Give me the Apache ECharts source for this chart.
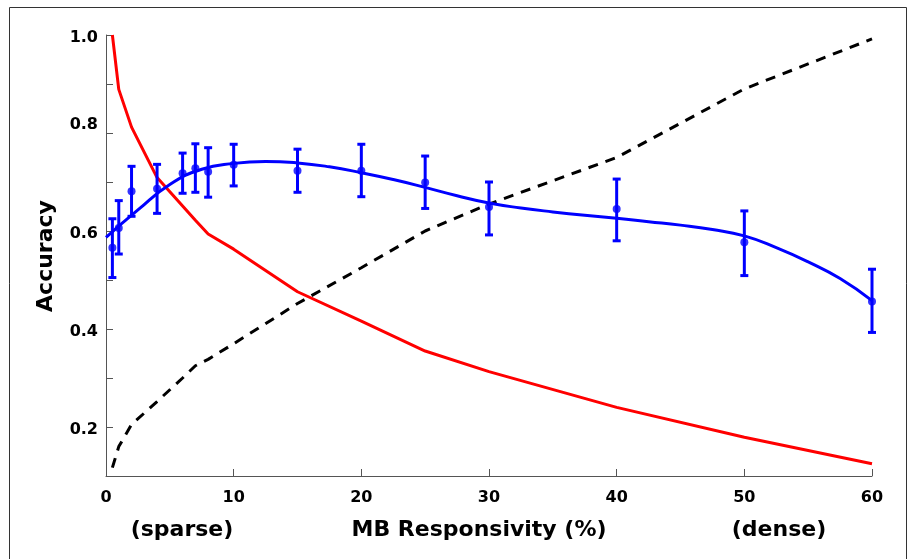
<!DOCTYPE html>
<html>
<head>
<meta charset="utf-8">
<script src="https://cdn.jsdelivr.net/npm/echarts@6/dist/echarts.min.js"></script>
<style>
  html, body { margin: 0; padding: 0; background: #fff; }
  #chart { width: 909px; height: 559px; }
</style>
</head>
<body>
<div id="chart"></div>
<script>
// Sample positions (MB responsivity, %)
const responsivity = [0.5, 1, 2, 4, 6, 7, 8, 10, 15, 20, 25, 30, 40, 50, 60];

// Measured accuracy with error bar bounds
const accuracyMean = [0.566, 0.606, 0.681, 0.686, 0.718, 0.728, 0.721, 0.735, 0.723, 0.723, 0.699, 0.649, 0.645, 0.577, 0.456];
const accuracyHigh = [0.625, 0.662, 0.732, 0.736, 0.759, 0.778, 0.770, 0.777, 0.767, 0.777, 0.753, 0.700, 0.706, 0.641, 0.522];
const accuracyLow  = [0.505, 0.553, 0.630, 0.636, 0.677, 0.679, 0.669, 0.692, 0.679, 0.670, 0.646, 0.592, 0.580, 0.509, 0.393];

// Red curve (decreasing with responsivity)
const redCurve = [1.000, 0.889, 0.812, 0.709, 0.651, 0.622, 0.594, 0.563, 0.476, 0.416, 0.355, 0.313, 0.240, 0.179, 0.125];

// Black dashed curve (increasing with responsivity)
const dashedCurve = [0.117, 0.160, 0.205, 0.252, 0.300, 0.325, 0.338, 0.370, 0.452, 0.525, 0.600, 0.655, 0.750, 0.890, 0.992];

// Smooth fit through the accuracy points, read every 2.5 %
const fitX = [0, 2.5, 5, 7.5, 10, 12.5, 15, 17.5, 20, 22.5, 25, 27.5, 30, 32.5, 35, 37.5, 40, 42.5, 45, 47.5, 50, 52.5, 55, 57.5, 60];
const fitY = [0.587, 0.643, 0.695, 0.726, 0.738, 0.742, 0.739, 0.731, 0.719, 0.705, 0.689, 0.672, 0.657, 0.647, 0.639, 0.632, 0.626, 0.619, 0.612, 0.603, 0.590, 0.566, 0.537, 0.503, 0.458];

// Axis ticks
const xTicks = [0, 10, 20, 30, 40, 50, 60];
const yLabels = ['0.2', '0.4', '0.6', '0.8', '1.0'];

const FONT = 'DejaVu Sans';
const BLUE = '#0000ff';
const RED = '#ff0000';

const zip = (xs, ys) => xs.map((x, i) => [x, ys[i]]);

const labelRich = {
  n: { fontFamily: FONT, fontWeight: 'bold', fontSize: 16, color: '#000', padding: [5, 0, 0, 0] },
  up: { fontFamily: FONT, fontWeight: 'bold', fontSize: 16, color: '#000', padding: [5, 0, 21, 0] }
};

const chart = echarts.init(document.getElementById('chart'), null, { renderer: 'canvas' });

chart.setOption({
  animation: false,
  backgroundColor: '#ffffff',
  grid: { left: 106, right: 37, top: 35, bottom: 83 },
  xAxis: {
    type: 'value',
    min: xTicks[0],
    max: xTicks[xTicks.length - 1],
    interval: 10,
    axisLine: { show: true, lineStyle: { color: '#555', width: 1 } },
    axisTick: { show: true, inside: true, length: 7, lineStyle: { color: '#555' } },
    splitLine: { show: false },
    axisLabel: {
      margin: 14,
      color: '#000',
      fontFamily: FONT,
      fontWeight: 'bold',
      fontSize: 16
    }
  },
  yAxis: {
    type: 'value',
    min: 0.1,
    max: 1.0,
    interval: 0.1,
    axisLine: { show: true, lineStyle: { color: '#555', width: 1 } },
    axisTick: { show: true, inside: true, length: 7, lineStyle: { color: '#555' } },
    splitLine: { show: false },
    axisLabel: {
      margin: 8,
      color: '#000',
      fontFamily: FONT,
      fontWeight: 'bold',
      fontSize: 16,
      formatter: function (v) {
        const s = v.toFixed(1);
        if (yLabels.indexOf(s) < 0) return '';
        return (s === '0.8' ? '{up|' : '{n|') + s + '}';
      },
      rich: labelRich
    }
  },
  series: [
    {
      name: 'dashed',
      type: 'line',
      data: zip(responsivity, dashedCurve),
      showSymbol: false,
      lineStyle: { color: '#000', width: 3, type: [10, 8] },
      z: 2
    },
    {
      name: 'red',
      type: 'line',
      data: zip(responsivity, redCurve),
      showSymbol: false,
      lineStyle: { color: RED, width: 3 },
      z: 3
    },
    {
      name: 'fit',
      type: 'line',
      data: zip(fitX, fitY),
      smooth: 0.5,
      showSymbol: false,
      lineStyle: { color: BLUE, width: 3 },
      z: 4
    },
    {
      name: 'errorbars',
      type: 'custom',
      data: responsivity.map((x, i) => [x, accuracyLow[i], accuracyHigh[i]]),
      encode: { x: 0, y: [1, 2] },
      renderItem: function (params, api) {
        const x = api.value(0);
        const top = api.coord([x, api.value(2)]);
        const bot = api.coord([x, api.value(1)]);
        const cap = 4;
        const style = { stroke: BLUE, lineWidth: 3 };
        return {
          type: 'group',
          children: [
            { type: 'line', shape: { x1: top[0], y1: top[1], x2: bot[0], y2: bot[1] }, style: style },
            { type: 'line', shape: { x1: top[0] - cap, y1: top[1], x2: top[0] + cap, y2: top[1] }, style: style },
            { type: 'line', shape: { x1: bot[0] - cap, y1: bot[1], x2: bot[0] + cap, y2: bot[1] }, style: style }
          ]
        };
      },
      z: 5
    },
    {
      name: 'mean',
      type: 'scatter',
      data: zip(responsivity, accuracyMean),
      symbol: 'circle',
      symbolSize: 8,
      itemStyle: { color: BLUE },
      z: 6
    }
  ],
  graphic: [
    {
      type: 'rect',
      shape: { x: 9.5, y: 7.5, width: 897, height: 600 },
      style: { fill: 'none', stroke: '#333', lineWidth: 1 },
      silent: true
    },
    {
      type: 'text',
      x: 46, y: 256,
      rotation: Math.PI / 2,
      style: {
        text: 'Accuracy',
        fontFamily: FONT, fontWeight: 'bold', fontSize: 22,
        fill: '#000', align: 'center', verticalAlign: 'middle'
      }
    },
    {
      type: 'text',
      x: 479, y: 530,
      style: {
        text: 'MB Responsivity (%)',
        fontFamily: FONT, fontWeight: 'bold', fontSize: 22,
        fill: '#000', align: 'center', verticalAlign: 'middle'
      }
    },
    {
      type: 'text',
      x: 182, y: 530,
      style: {
        text: '(sparse)',
        fontFamily: FONT, fontWeight: 'bold', fontSize: 22,
        fill: '#000', align: 'center', verticalAlign: 'middle'
      }
    },
    {
      type: 'text',
      x: 779, y: 530,
      style: {
        text: '(dense)',
        fontFamily: FONT, fontWeight: 'bold', fontSize: 22,
        fill: '#000', align: 'center', verticalAlign: 'middle'
      }
    }
  ]
});
</script>
</body>
</html>
